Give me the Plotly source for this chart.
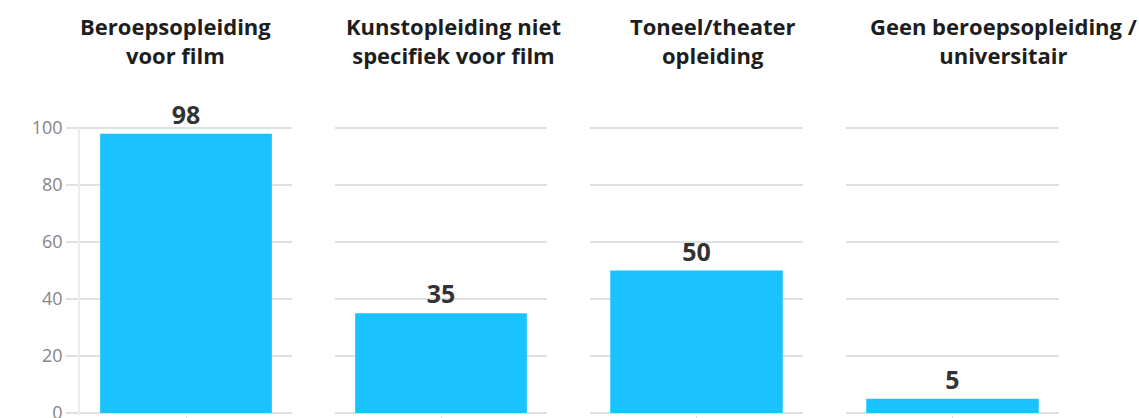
import plotly.graph_objects as go

categories = [
    "Beroepsopleiding<br>voor film",
    "Kunstopleiding niet<br>specifiek voor film",
    "Toneel/theater<br>opleiding",
    "Geen beroepsopleiding /<br>universitair",
]
values = [98, 35, 50, 5]
y_ticks = [0, 20, 40, 60, 80, 100]

W, H = 1139, 418
L, R, T, B = 80, 80, 126, 3
pw = W - L - R

def px_x(p):
    return (p - L) / pw

def px_y(p):
    return (H - B - p) / (H - T - B)

domains = [(80, 292), (335, 547), (590, 803), (846, 1059)]
title_centers = [175, 453, 712, 1003]

BAR = "#1ac2ff"
GRID = "#e0e0e0"

fig = go.Figure()
for i, (cat, val) in enumerate(zip(categories, values)):
    n = "" if i == 0 else str(i + 1)
    fig.add_trace(go.Bar(
        x=[cat], y=[val], xaxis="x" + n, yaxis="y" + n,
        marker=dict(color=BAR, line=dict(width=0)),
        text=[str(val)], textposition="outside", cliponaxis=False,
        textfont=dict(family="Open Sans", size=25, color="#333333", weight="bold"),
        hoverinfo="skip", showlegend=False,
    ))
    d0, d1 = domains[i]
    fig.layout["xaxis" + n] = dict(
        domain=[px_x(d0), px_x(d1)], anchor="y" + n,
        showticklabels=False, ticks="outside", ticklen=6, tickcolor=GRID,
        showgrid=False, zeroline=False, showline=False,
        automargin=False, fixedrange=True,
    )
    fig.layout["yaxis" + n] = dict(
        anchor="x" + n, range=[-0.7, 100.7], tickvals=y_ticks,
        showgrid=True, gridcolor=GRID, gridwidth=1.5, zeroline=False,
        showticklabels=(i == 0), ticklabeloverflow="allow",
        ticks="outside" if i == 0 else "", ticklen=12, tickcolor=GRID, tickwidth=1.5,
        showline=(i == 0), linecolor="#ececec", linewidth=1.5,
        tickfont=dict(family="Open Sans", size=18, color="#858585"),
        automargin=False, fixedrange=True,
    )
    fig.add_annotation(
        text=cat, xref="paper", yref="paper",
        x=px_x(title_centers[i]), y=px_y(9), xanchor="center", yanchor="top",
        showarrow=False, align="center",
        font=dict(family="Open Sans", size=22, color="#1e1e1e", weight="bold"),
    )

fig.update_layout(
    width=W, height=H,
    margin=dict(l=L, r=R, t=T, b=B),
    paper_bgcolor="white", plot_bgcolor="white",
    bargap=0.19,
)
fig.write_html("out.html")
